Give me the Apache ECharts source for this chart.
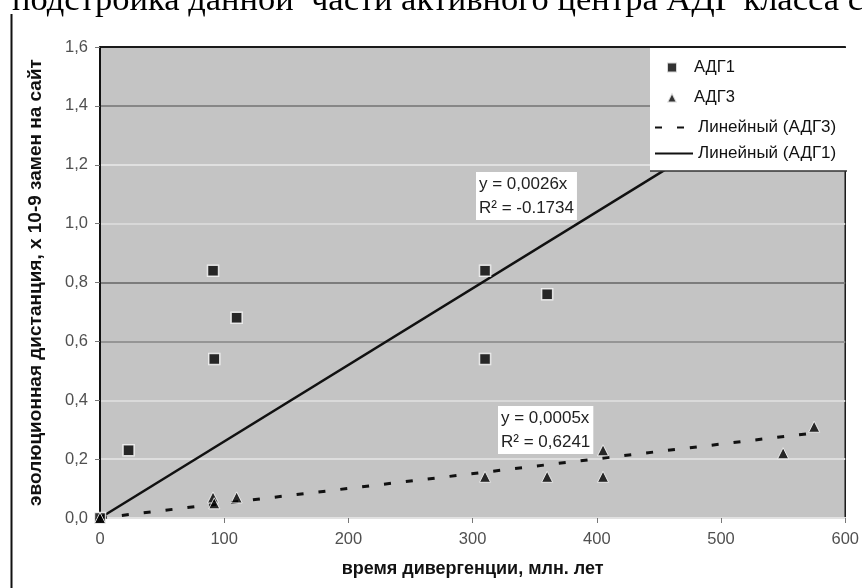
<!DOCTYPE html>
<html><head><meta charset="utf-8">
<script src="https://cdn.jsdelivr.net/npm/echarts@6/dist/echarts.min.js"></script>
<style>html,body{margin:0;padding:0;background:#fff}#c{width:862px;height:588px}</style>
</head><body><div id="c"></div>
<script>
// ---- data ----
const xTicks = ['0', '100', '200', '300', '400', '500', '600'];
const yTicks = ['0,0', '0,2', '0,4', '0,6', '0,8', '1,0', '1,2', '1,4', '1,6'];
const seriesNames = ['АДГ1', 'АДГ3', 'Линейный (АДГ3)', 'Линейный (АДГ1)'];
const adg1X = [0, 23, 91, 110, 92, 310, 360, 310];
const adg1Y = [0, 0.23, 0.84, 0.68, 0.54, 0.84, 0.76, 0.54];
const adg3X = [0, 91, 92, 110, 310, 360, 405, 405, 550, 575];
const adg3Y = [0, 0.07, 0.05, 0.07, 0.14, 0.14, 0.23, 0.14, 0.22, 0.31];
const trend1X = [0, 575];
const trend1Y = [0, 1.495];
const trend3X = [0, 577];
const trend3Y = [0, 0.29];
const eq1 = ['y = 0,0026x', 'R² = -0.1734'];
const eq3 = ['y = 0,0005x', 'R² = 0,6241'];
const titleText = 'подстройка данной  части активного центра АДГ класса с';
const xName = 'время дивергенции, млн. лет';
const yName = 'эволюционная дистанция, х 10-9 замен на сайт';

const zip = (xs, ys) => xs.map((x, i) => [x, ys[i]]);
const FONT = '"Liberation Sans", Arial, sans-serif';

const chart = echarts.init(document.getElementById('c'), null, {renderer: 'canvas'});
chart.setOption({
  animation: false,
  backgroundColor: '#ffffff',
  grid: {left: 100, top: 47, right: 15, bottom: 70, show: true,
         backgroundColor: '#c4c4c4', borderColor: '#1a1a1a', borderWidth: 1.5},
  xAxis: {
    type: 'value', min: 0, max: 600, interval: 100,
    name: xName, nameLocation: 'middle', nameGap: 42,
    nameTextStyle: {fontFamily: FONT, fontSize: 18, fontWeight: 'bold', color: '#111'},
    axisLine: {show: true, onZero: false, lineStyle: {color: '#e2e2e2', width: 2}},
    axisTick: {show: true, length: 5, lineStyle: {color: '#777'}},
    axisLabel: {margin: 13, fontFamily: FONT, fontSize: 16.5, color: '#505050',
                formatter: v => xTicks[Math.round(v / 100)]},
    splitLine: {show: false}
  },
  yAxis: {
    type: 'value', min: 0, max: 1.6, interval: 0.2,
    name: yName, nameLocation: 'middle', nameGap: 55,
    nameTextStyle: {fontFamily: FONT, fontSize: 19, fontWeight: 'bold', color: '#111'},
    axisLine: {show: true, onZero: false, lineStyle: {color: '#111', width: 2}},
    axisTick: {show: true, length: 5, lineStyle: {color: '#777'}},
    axisLabel: {margin: 12, fontFamily: FONT, fontSize: 16.5, color: '#505050',
                formatter: v => yTicks[Math.round(v / 0.2)]},
    splitLine: {show: true, lineStyle: {width: 2, color:
      ['#e2e2e2', '#dedede', '#dadada', '#959595', '#7c7c7c', '#d8d8d8', '#e0e0e0', '#878787', '#1a1a1a']}}
  },
  legend: [
    {data: [{name: seriesNames[0], icon: 'path://M0,0H10V10H0Z'},
            {name: seriesNames[1], icon: 'path://M5,0L10,10H0Z'}],
     orient: 'vertical', left: 661, top: 54, itemWidth: 34, itemHeight: 10, itemGap: 13,
     z: 10, textStyle: {fontFamily: FONT, fontSize: 16.5, color: '#111'}},
    {data: [seriesNames[2], seriesNames[3]],
     orient: 'vertical', left: 649, top: 114, itemWidth: 38, itemHeight: 12, itemGap: 9,
     itemStyle: {color: 'rgba(0,0,0,0)', opacity: 0, borderWidth: 0},
     z: 10, textStyle: {fontFamily: FONT, fontSize: 17, color: '#111'}}
  ],
  graphic: [
    {type: 'text', left: 12, top: -17, z: 1,
     style: {text: titleText, font: '34.5px "Liberation Serif", "Times New Roman", serif', fill: '#000'}},
    {type: 'line', z: 1, shape: {x1: 11.5, y1: 14, x2: 11.5, y2: 588},
     style: {stroke: '#111', lineWidth: 2}},
    {type: 'rect', z: 5, shape: {x: 650, y: 48, width: 196, height: 123},
     style: {fill: '#ffffff'}},
    {type: 'line', z: 5, shape: {x1: 650, y1: 171, x2: 847, y2: 171},
     style: {stroke: '#333', lineWidth: 1.5}},
    {type: 'text', z: 6, left: 476, top: 172,
     style: {text: eq1.join('\n'), font: '17px ' + FONT, fill: '#222', lineHeight: 24,
             backgroundColor: '#fff', padding: [0, 3, 0, 3]}},
    {type: 'text', z: 6, left: 498, top: 406,
     style: {text: eq3.join('\n'), font: '17px ' + FONT, fill: '#222', lineHeight: 24,
             backgroundColor: '#fff', padding: [0, 3, 0, 3]}}
  ],
  series: [
    {name: seriesNames[0], type: 'scatter', z: 4, symbol: 'rect', symbolSize: 11,
     itemStyle: {color: '#000', borderColor: '#fff', borderWidth: 1.5},
     data: zip(adg1X, adg1Y)},
    {name: seriesNames[1], type: 'scatter', z: 4, symbol: 'triangle', symbolSize: 11,
     itemStyle: {color: '#000', borderColor: '#fff', borderWidth: 1},
     data: zip(adg3X, adg3Y)},
    {name: seriesNames[2], type: 'line', z: 3, symbol: 'none', showSymbol: false,
     lineStyle: {color: '#111', width: 3, type: [7, 15]},
     data: zip(trend3X, trend3Y)},
    {name: seriesNames[3], type: 'line', z: 3, symbol: 'none', showSymbol: false,
     lineStyle: {color: '#111', width: 2.5},
     data: zip(trend1X, trend1Y)}
  ]
});
</script>
</body></html>
